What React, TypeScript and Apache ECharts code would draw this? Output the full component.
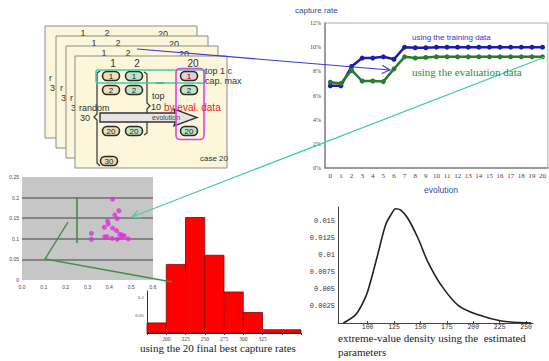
import React, { useEffect, useRef } from "react";
import * as echarts from "echarts";

// ---------- data ----------
const evolutionSteps = ["0","1","2","3","4","5","6","7","8","9","10","11","12","13","14","15","16","17","18","19","20"];
const trainingRate = [6.8, 6.8, 8.4, 9.1, 9.1, 9.2, 9.0, 10.0, 9.95, 9.95, 10.0, 10.0, 10.0, 10.0, 10.0, 10.0, 10.0, 10.0, 10.0, 10.0, 10.0];
const evaluationRate = [7.1, 7.0, 8.1, 7.2, 7.2, 7.15, 8.2, 9.2, 9.1, 9.15, 9.2, 9.2, 9.2, 9.2, 9.2, 9.2, 9.2, 9.2, 9.2, 9.2, 9.2];

const scatterX = [0.415, 0.444, 0.425, 0.436, 0.392, 0.395, 0.377, 0.415, 0.433, 0.318, 0.448, 0.459, 0.469, 0.379, 0.39, 0.318, 0.436, 0.413, 0.487, 0.455];
const scatterY = [0.196, 0.168, 0.158, 0.149, 0.143, 0.136, 0.128, 0.126, 0.12, 0.113, 0.111, 0.109, 0.107, 0.105, 0.105, 0.099, 0.099, 0.101, 0.1, 0.104];

const histBinStart = [175, 200, 225, 250, 275, 300, 325, 350];
const histBinEnd = [200, 225, 250, 275, 300, 325, 350, 375];
const histHeight = [0.028, 0.19, 0.321, 0.216, 0.114, 0.057, 0.009, 0.009];
const histTickLabels = [200, 225, 250, 275, 300, 325];

const densityX = [77, 88.6, 94.3, 100, 109.5, 117, 122, 126.7, 131.4, 138, 147.6, 157, 169.5, 185.7, 204.8, 226.7, 255];
const densityY = [0, 0.0012, 0.0026, 0.0046, 0.01, 0.0144, 0.0159, 0.0168, 0.0166, 0.0154, 0.0125, 0.009, 0.0056, 0.0026, 0.0012, 0.0003, 0];
const densityXTicks = [100, 125, 150, 175, 200, 225, 250];
const densityYTicks = [0.0025, 0.005, 0.0075, 0.01, 0.0125, 0.015];

const SANS = '"Liberation Sans", Arial, sans-serif';
const SERIF = '"Liberation Serif", "Times New Roman", serif';
const MONO = '"Liberation Mono", "DejaVu Sans Mono", monospace';

function txt(text: string, x: number, y: number, o: any = {}) {
  const align = o.align || "left";
  return {
    type: "text",
    z: o.z ?? 200,
    silent: true,
    style: {
      text,
      x,
      y,
      fill: o.fill || "#333",
      fontSize: o.size || 9,
      fontFamily: o.family || SANS,
      fontWeight: o.weight || "normal",
      align,
      textAlign: align,
      verticalAlign: "middle",
      textVerticalAlign: "middle",
    },
  };
}

function buildDiagram(): any[] {
  const els: any[] = [];
  const base = { x: 75, y: 56, w: 152, h: 112 };
  const offsets = [[-30, -30], [-19, -20], [-9, -10], [0, 0]];
  offsets.forEach(([dx, dy], i) => {
    const z = 20 + i * 10;
    const front = i === 3;
    els.push({
      type: "rect",
      z,
      shape: { x: base.x + dx, y: base.y + dy, width: base.w, height: base.h },
      style: { fill: "#fcf6da", stroke: "#8c8c8c", lineWidth: 1 },
    });
    const tz = z + 1;
    const hs = front ? 10 : 9;
    els.push(txt("1", 113 + dx, 63 + dy, { z: tz, size: hs, align: "center" }));
    els.push(txt("2", 137 + dx, 63 + dy, { z: tz, size: hs, align: "center" }));
    els.push(txt("20", 193 + dx, 63.5 + dy, { z: tz, size: hs, align: "center" }));
    // back cards only show the part that stays visible at their left edge
    els.push(txt(front ? "random" : "r", 79 + dx, 108 + dy, { z: tz, size: 9 }));
    els.push(txt(front ? "30" : "3", 80 + dx, 118 + dy, { z: tz, size: 9 }));
  });
  const z = 60;
  const pill = (cx: number, cy: number, label: string, fill: string) => {
    els.push({
      type: "rect",
      z,
      shape: { x: cx - 8.5, y: cy - 4.5, width: 17, height: 9, r: 4.5 },
      style: { fill, stroke: "#2a2a2a", lineWidth: 1.6 },
    });
    els.push(txt(label, cx, cy + 0.5, { z: z + 1, size: 8, align: "center", fill: "#222" }));
  };
  const peach = "#f2ddb4";
  const green = "#bfe5c6";
  const pink = "#f5c8d6";
  pill(111, 76, "1", peach);
  pill(134, 76, "1", green);
  pill(189, 76, "1", pink);
  pill(111, 90, "2", peach);
  pill(134, 90, "2", green);
  pill(189, 90, "2", green);
  pill(111, 131, "20", peach);
  pill(134, 131, "20", green);
  pill(189, 131, "20", green);
  pill(109, 161, "30", peach);

  // left brace
  els.push({
    type: "polyline",
    z,
    shape: { points: [[100, 71], [97, 73], [97, 114], [94, 117], [97, 120], [97, 163], [100, 166]] },
    style: { stroke: "#333", lineWidth: 1.2, fill: null },
  });
  // right bracket
  els.push({
    type: "polyline",
    z,
    shape: { points: [[144, 72], [147, 74], [147, 103], [150, 106], [147, 109], [147, 133], [144, 135]] },
    style: { stroke: "#333", lineWidth: 1.2, fill: null },
  });
  // dots
  els.push(txt("•••", 160, 82, { z, size: 7, align: "center", fill: "#333" }));
  // big arrow
  els.push({
    type: "polygon",
    z,
    shape: { points: [[100, 113], [175, 113], [174, 109], [197, 117.5], [174, 126], [175, 122], [100, 122]] },
    style: { fill: "#e4e4e4", stroke: "#333", lineWidth: 1.4 },
  });
  els.push(txt("evolution", 152, 117, { z: z + 2, size: 7, fill: "#444" }));
  // teal rect (top 1)
  els.push({
    type: "rect",
    z: z + 3,
    shape: { x: 96, y: 70, width: 109, height: 13, r: 2 },
    style: { fill: null, stroke: "#3fcca4", lineWidth: 1.5 },
  });
  // magenta rect
  els.push({
    type: "rect",
    z: z + 3,
    shape: { x: 176, y: 68.5, width: 28, height: 71, r: 4 },
    style: { fill: null, stroke: "#e040e0", lineWidth: 1.6 },
  });
  els.push(txt("top 1 c", 205, 71, { z: z + 4, size: 9 }));
  els.push(txt("cap. max", 205, 81, { z: z + 4, size: 9 }));
  els.push(txt("top", 152, 96, { z: z + 4, size: 9 }));
  els.push(txt("10", 151, 107, { z: z + 4, size: 9 }));
  els.push(txt("by eval. data", 164, 107, { z: z + 4, size: 10, fill: "#ee2222" }));
  els.push(txt("case 20", 200, 158, { z: z + 4, size: 8 }));
  return els;
}

function buildConnectors(): any[] {
  const els: any[] = [];
  // blue connector
  els.push({
    type: "line",
    z: 150,
    shape: { x1: 137, y1: 49, x2: 390, y2: 70 },
    style: { stroke: "#3a3ad8", lineWidth: 1.1 },
  });
  els.push({
    type: "polyline",
    z: 150,
    shape: { points: [[382.3, 65.3], [390, 70], [381.7, 73.6]] },
    style: { stroke: "#3a3ad8", lineWidth: 1.1, fill: null },
  });
  // teal connector
  els.push({
    type: "line",
    z: 150,
    shape: { x1: 132, y1: 217, x2: 545, y2: 57 },
    style: { stroke: "#3fcfa6", lineWidth: 1.2 },
  });
  els.push({
    type: "polyline",
    z: 150,
    shape: { points: [[140.9, 217.8], [132, 217], [138.0, 210.4]] },
    style: { stroke: "#3fcfa6", lineWidth: 1.2, fill: null },
  });
  // green lines
  els.push({
    type: "polyline",
    z: 150,
    shape: { points: [[68, 222], [45, 259], [172, 282]] },
    style: { stroke: "#3f8f47", lineWidth: 1.4, fill: null },
  });
  els.push({
    type: "line",
    z: 150,
    shape: { x1: 77, y1: 197, x2: 77, y2: 243 },
    style: { stroke: "#3f8f47", lineWidth: 1.6 },
  });
  return els;
}

export default function App() {
  const ref = useRef<HTMLDivElement>(null);
  useEffect(() => {
    document.body.style.margin = "0";
    if (!ref.current) return;
    const chart = echarts.init(ref.current, null, { renderer: "svg" });
    const axisLbl = (size: number, family: string, extra: any = {}) => ({
      fontSize: size,
      fontFamily: family,
      color: "#444",
      ...extra,
    });
    const option: any = {
      animation: false,
      backgroundColor: "#ffffff",
      grid: [
        { left: 325, top: 23, width: 224, height: 145, show: true, borderColor: "#aaa", borderWidth: 1, backgroundColor: "#fff" },
        { left: 22, top: 177, width: 131, height: 103, show: true, backgroundColor: "#c6c6c6", borderWidth: 0 },
        { left: 147, top: 291, width: 154, height: 42 },
        { left: 338, top: 207, width: 195, height: 116 },
      ],
      xAxis: [
        {
          gridIndex: 0,
          type: "category",
          data: evolutionSteps,
          boundaryGap: true,
          axisLine: { show: true, lineStyle: { color: "#888", width: 1.5 } },
          axisTick: { show: false },
          axisLabel: axisLbl(7, SERIF, { interval: 0, margin: 4 }),
        },
        {
          gridIndex: 1,
          type: "value",
          min: 0,
          max: 0.6,
          interval: 0.1,
          axisLine: { show: false },
          axisTick: { show: false },
          splitLine: { show: false },
          axisLabel: axisLbl(5, SANS, { margin: 4, formatter: (v: number) => v.toFixed(1) }),
        },
        {
          gridIndex: 2,
          type: "value",
          min: 175,
          max: 375,
          interval: 25,
          axisLine: { show: true, lineStyle: { color: "#333", width: 1 } },
          axisTick: { show: true, length: 2, lineStyle: { color: "#333" } },
          splitLine: { show: false },
          axisLabel: axisLbl(5.5, SERIF, {
            margin: 3,
            formatter: (v: number) => (histTickLabels.indexOf(v) >= 0 ? String(v) : ""),
          }),
        },
        {
          gridIndex: 3,
          type: "value",
          min: 72,
          max: 256.5,
          axisLine: { show: true, lineStyle: { color: "#444", width: 1 } },
          axisTick: { show: true, inside: true, length: 2, customValues: densityXTicks, lineStyle: { color: "#444" } },
          splitLine: { show: false },
          axisLabel: axisLbl(6.5, MONO, { margin: 1, customValues: densityXTicks, color: "#333" }),
        },
      ],
      yAxis: [
        {
          gridIndex: 0,
          type: "value",
          min: 0,
          max: 12,
          interval: 2,
          axisLine: { show: true, lineStyle: { color: "#888", width: 1.5 } },
          axisTick: { show: false },
          splitLine: { show: false },
          axisLabel: axisLbl(6, SERIF, { margin: 4, formatter: "{value}%" }),
        },
        {
          gridIndex: 1,
          type: "value",
          min: 0,
          max: 0.25,
          interval: 0.05,
          axisLine: { show: false },
          axisTick: { show: false },
          splitLine: { show: true, showMinLine: false, showMaxLine: false, lineStyle: { color: "#6e6e6e", width: 1.6 } },
          axisLabel: axisLbl(5, SANS, { margin: 3 }),
        },
        {
          gridIndex: 2,
          type: "value",
          min: 0,
          max: 0.1167,
          interval: 0.05,
          axisLine: { show: true, lineStyle: { color: "#333", width: 1 } },
          axisTick: { show: false },
          splitLine: { show: false },
          axisLabel: axisLbl(5, SERIF, { margin: 3, showMinLabel: false, showMaxLabel: false }),
        },
        {
          gridIndex: 3,
          type: "value",
          min: 0,
          max: 0.01706,
          axisLine: { show: true, lineStyle: { color: "#444", width: 1 } },
          axisTick: { show: false, customValues: densityYTicks },
          splitLine: { show: false },
          axisLabel: axisLbl(7, MONO, { margin: 3, customValues: densityYTicks, color: "#333", formatter: (v: number) => String(v) }),
        },
      ],
      series: [
        {
          type: "line",
          xAxisIndex: 0,
          yAxisIndex: 0,
          data: trainingRate,
          symbol: "circle",
          symbolSize: 5,
          color: "#1c1ca8",
          lineStyle: { width: 2.5, color: "#1c1ca8" },
          itemStyle: { color: "#1c1ca8" },
        },
        {
          type: "line",
          xAxisIndex: 0,
          yAxisIndex: 0,
          data: evaluationRate,
          symbol: "circle",
          symbolSize: 5,
          color: "#2a7a30",
          lineStyle: { width: 2.5, color: "#2a7a30" },
          itemStyle: { color: "#2a7a30" },
        },
        {
          type: "scatter",
          xAxisIndex: 1,
          yAxisIndex: 1,
          data: scatterX.map((x, i) => [x, scatterY[i]]),
          symbolSize: 5,
          itemStyle: { color: "#e030e0" },
        },
        {
          type: "custom",
          xAxisIndex: 2,
          yAxisIndex: 2,
          clip: false,
          data: histBinStart.map((s, i) => [s, histBinEnd[i], histHeight[i]]),
          encode: { x: [0, 1], y: 2 },
          renderItem: (params: any, api: any) => {
            const p0 = api.coord([api.value(0), api.value(2)]);
            const p1 = api.coord([api.value(1), 0]);
            return {
              type: "rect",
              shape: { x: p0[0], y: p0[1], width: p1[0] - p0[0], height: p1[1] - p0[1] },
              style: { fill: "#ff0000", stroke: "#8a0000", lineWidth: 0.8 },
            };
          },
        },
        {
          type: "line",
          xAxisIndex: 3,
          yAxisIndex: 3,
          data: densityX.map((x, i) => [x, densityY[i]]),
          smooth: 0.35,
          showSymbol: false,
          symbol: "none",
          lineStyle: { color: "#222", width: 1.6 },
        },
      ],
      graphic: {
        elements: [
          ...buildDiagram(),
          ...buildConnectors(),
          txt("capture rate", 295, 10, { size: 8, fill: "#2a4ea0" }),
          txt("evolution", 441, 190, { size: 8.5, fill: "#2a4ea0", align: "center" }),
          txt("using the training data", 412, 37, { size: 8, fill: "#3434c8" }),
          txt("using the evaluation data", 412, 72, { size: 11, fill: "#2e8b3a", family: SERIF }),
          txt("using the 20 final best capture rates", 218, 348, { size: 11, fill: "#222", family: SERIF, align: "center" }),
          txt("extreme-value density using the  estimated", 338, 338, { size: 11, fill: "#222", family: SERIF }),
          txt("parameters", 338, 352, { size: 11, fill: "#222", family: SERIF }),
        ],
      },
    };
    chart.setOption(option);
    return () => chart.dispose();
  }, []);
  return <div ref={ref} style={{ width: 549, height: 361 }} />;
}
